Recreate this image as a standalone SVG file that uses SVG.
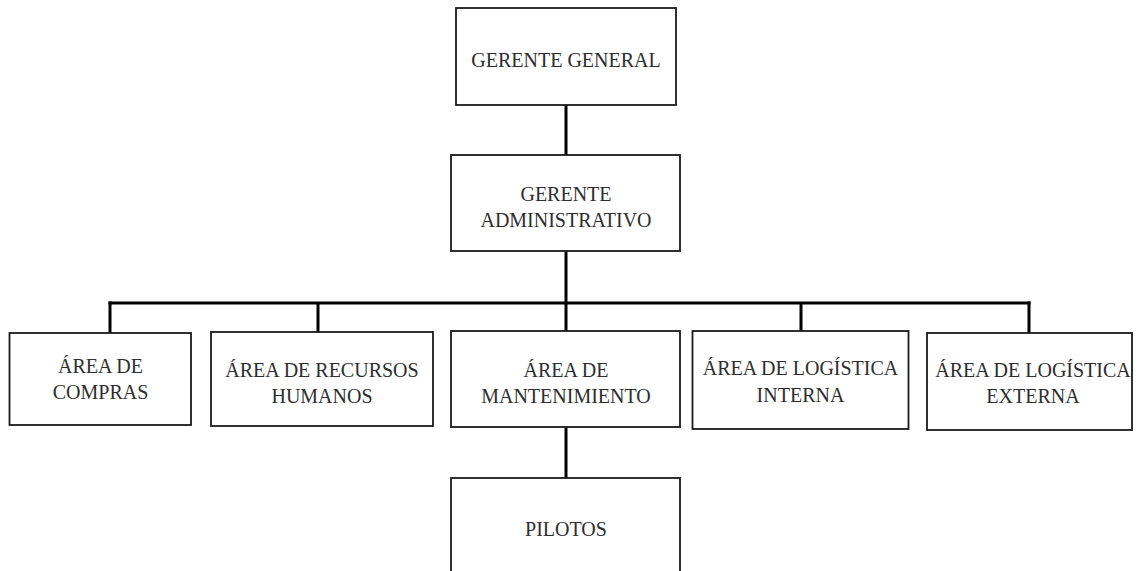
<svg xmlns="http://www.w3.org/2000/svg" width="1141" height="571" viewBox="0 0 1141 571">
  <style>
    .box { fill: #ffffff; stroke: #1a1a1a; stroke-width: 1.8; }
    .label { font-family: "Liberation Serif", "DejaVu Serif", serif; font-size: 20px; fill: #2e2e2e; text-anchor: middle; }
    .wire { fill: none; stroke: #000000; stroke-width: 3; stroke-linecap: butt; }
  </style>
  <rect width="1141" height="571" fill="#ffffff"/>

  <!-- connectors -->
  <g id="connectors">
    <line class="wire" x1="566" y1="105" x2="566" y2="155"/>
    <line class="wire" x1="566" y1="251" x2="566" y2="303"/>
    <line class="wire" x1="108.5" y1="303" x2="1030.5" y2="303"/>
    <line class="wire" x1="110" y1="301.5" x2="110" y2="333"/>
    <line class="wire" x1="318" y1="303" x2="318" y2="332"/>
    <line class="wire" x1="566" y1="303" x2="566" y2="331"/>
    <line class="wire" x1="801" y1="303" x2="801" y2="331"/>
    <line class="wire" x1="1029" y1="301.5" x2="1029" y2="333"/>
    <line class="wire" x1="566" y1="427" x2="566" y2="478"/>
  </g>

  <g id="gerente-general">
    <rect class="box" x="456" y="8" width="220" height="97"/>
    <text class="label" x="566" y="67">GERENTE GENERAL</text>
  </g>

  <g id="gerente-administrativo">
    <rect class="box" x="451" y="155" width="229" height="96"/>
    <text class="label" x="566" y="201">GERENTE</text>
    <text class="label" x="566" y="227">ADMINISTRATIVO</text>
  </g>

  <g id="area-compras">
    <rect class="box" x="9.5" y="333" width="181.5" height="92"/>
    <text class="label" x="100.5" y="373">ÁREA DE</text>
    <text class="label" x="100.5" y="399">COMPRAS</text>
  </g>

  <g id="area-recursos-humanos">
    <rect class="box" x="211" y="332" width="222" height="94"/>
    <text class="label" x="322" y="377">ÁREA DE RECURSOS</text>
    <text class="label" x="322" y="403">HUMANOS</text>
  </g>

  <g id="area-mantenimiento">
    <rect class="box" x="451" y="331" width="229" height="96"/>
    <text class="label" x="566" y="377">ÁREA DE</text>
    <text class="label" x="566" y="403">MANTENIMIENTO</text>
  </g>

  <g id="area-logistica-interna">
    <rect class="box" x="692.5" y="331" width="216" height="98"/>
    <text class="label" x="800.5" y="375">ÁREA DE LOGÍSTICA</text>
    <text class="label" x="800.5" y="402">INTERNA</text>
  </g>

  <g id="area-logistica-externa">
    <rect class="box" x="927" y="333" width="205" height="97"/>
    <text class="label" x="1033" y="377">ÁREA DE LOGÍSTICA</text>
    <text class="label" x="1033" y="403">EXTERNA</text>
  </g>

  <g id="pilotos">
    <rect class="box" x="451" y="478" width="229" height="110"/>
    <text class="label" x="566" y="536">PILOTOS</text>
  </g>
</svg>
